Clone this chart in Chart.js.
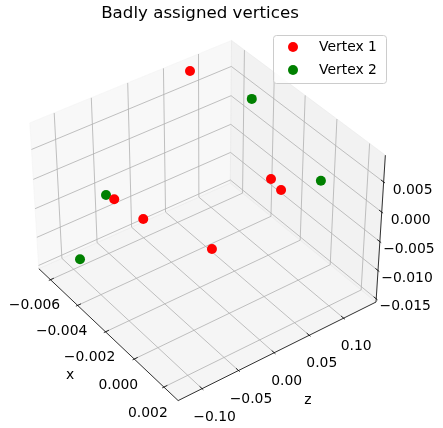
<!DOCTYPE html>
<html>
<head>
<meta charset="utf-8">
<script src="https://cdn.jsdelivr.net/npm/chart.js@4.4.1/dist/chart.umd.min.js"></script>
<style>
html,body{margin:0;padding:0;background:#fff}
</style>
</head>
<body>
<canvas id="chart" width="443" height="428"></canvas>
<script>
// series (x = first horizontal axis, z = second horizontal axis, y = vertical axis)
const seriesNames=['Vertex 1','Vertex 2']
const v1x=[-0.00653,-0.00070,0.00040,-0.00455,-0.00407,-0.00313]
const v1z=[0.0805,0.0720,0.0617,-0.0671,-0.0372,0.0410]
const v1y=[0.0081,0.0020,0.0030,-0.0020,-0.0060,-0.0136]
const v2x=[-0.00468,0.00219,-0.00465,-0.00467]
const v2z=[0.1308,0.0758,-0.0761,-0.1143]
const v2y=[0.0045,0.0075,-0.0010,-0.0100]

// ticks and axis limits
const xTicks=[-0.006,-0.004,-0.002,0.000,0.002]
const zTicks=[-0.10,-0.05,0.00,0.05,0.10]
const yTicks=[-0.015,-0.010,-0.005,0.000,0.005]
const xLim=[-0.006880,0.002941]
const zLim=[-0.13235,0.14798]
const yLim=[-0.015577,0.009353]

const W=443,H=428
const FONT='"DejaVu Sans", sans-serif'

/* 3D view, matplotlib style perspective */
const elev=38.07*Math.PI/180, azim=-36.24*Math.PI/180, dist=10
const asp=[4,4,3].map(q=>q*1.8294640721620434/Math.sqrt(41))
const w=[Math.cos(elev)*Math.cos(azim),Math.cos(elev)*Math.sin(azim),Math.sin(elev)]
const eye=[0,1,2].map(i=>asp[i]/2+dist*w[i])
let u=[-w[1],w[0],0]
const un=Math.hypot(u[0],u[1])
u=u.map(q=>q/un)
const v=[w[1]*u[2]-w[2]*u[1],w[2]*u[0]-w[0]*u[2],w[0]*u[1]-w[1]*u[0]]
const dot=(a,b)=>a[0]*b[0]+a[1]*b[1]+a[2]*b[2]

function proj(a,b,c){
const p=[(a-xLim[0])/(xLim[1]-xLim[0])*asp[0],(b-zLim[0])/(zLim[1]-zLim[0])*asp[1],(c-yLim[0])/(yLim[1]-yLim[0])*asp[2]]
const d=[p[0]-eye[0],p[1]-eye[1],p[2]-eye[2]]
const dw=-dot(w,d)
return {x:dot(u,d)/dw,y:dot(v,d)/dw}
}

// where the box corners sit on the page
const anchors=[
[[0,0,0],[38,268]],
[[1,0,0],[178,402]],
[[1,1,0],[376,300]],
[[0,1,1],[231,41]],
[[1,1,1],[385,155]],
[[0,0,1],[30,123]],
[[0,1,0],[232,184]]
]

function fitView(area){
const P=anchors.map(a=>proj(xLim[a[0][0]],zLim[a[0][1]],yLim[a[0][2]]))
const n=P.length
let mX=0,mY=0,mx=0,my=0
P.forEach((p,i)=>{mX+=p.x/n;mY+=p.y/n;mx+=anchors[i][1][0]/n;my+=anchors[i][1][1]/n})
let num=0,den=0
P.forEach((p,i)=>{
num+=(p.x-mX)*(anchors[i][1][0]-mx)-(p.y-mY)*(anchors[i][1][1]-my)
den+=(p.x-mX)**2+(p.y-mY)**2
})
const s=num/den, ox=mx-s*mX, oy=my+s*mY
return {xmin:(area.left-ox)/s,xmax:(area.right-ox)/s,ymin:(oy-area.bottom)/s,ymax:(oy-area.top)/s}
}
const view=fitView({left:0,top:0,right:W,bottom:H})

const pts=(xs,zs,ys)=>xs.map((x,i)=>proj(x,zs[i],ys[i]))

const fmt=(val,d)=>(val<-1e-12?'\u2212':'')+Math.abs(val).toFixed(d)

function px(chart,a,b,c){
const p=proj(a,b,c)
return [chart.scales.x.getPixelForValue(p.x),chart.scales.y.getPixelForValue(p.y)]
}

function path(ctx,list){
ctx.beginPath()
list.forEach((p,i)=>i?ctx.lineTo(p[0],p[1]):ctx.moveTo(p[0],p[1]))
}

const axes3d={
id:'axes3d',
beforeDatasetsDraw(chart){
const ctx=chart.ctx
const [x0,x1]=xLim,[z0,z1]=zLim,[y0,y1]=yLim
const P=(a,b,c)=>px(chart,a,b,c)
ctx.save()
// panes
const panes=[
[[P(x0,z0,y0),P(x0,z1,y0),P(x0,z1,y1),P(x0,z0,y1)],'rgba(242,242,242,0.5)'],
[[P(x0,z1,y0),P(x1,z1,y0),P(x1,z1,y1),P(x0,z1,y1)],'rgba(230,230,230,0.5)'],
[[P(x0,z0,y0),P(x1,z0,y0),P(x1,z1,y0),P(x0,z1,y0)],'rgba(236,236,236,0.5)']
]
panes.forEach(([poly,col])=>{
path(ctx,poly);ctx.closePath()
ctx.fillStyle=col;ctx.fill()
ctx.strokeStyle=col;ctx.lineWidth=1;ctx.stroke()
})
// grid
ctx.strokeStyle='#b0b0b0';ctx.lineWidth=0.8
xTicks.forEach(t=>{path(ctx,[P(t,z1,y1),P(t,z1,y0),P(t,z0,y0)]);ctx.stroke()})
zTicks.forEach(t=>{path(ctx,[P(x0,t,y1),P(x0,t,y0),P(x1,t,y0)]);ctx.stroke()})
yTicks.forEach(t=>{path(ctx,[P(x1,z1,t),P(x0,z1,t),P(x0,z0,t)]);ctx.stroke()})
// axis lines
ctx.strokeStyle='#000';ctx.lineWidth=0.8
path(ctx,[P(x0,z0,y0),P(x1,z0,y0)]);ctx.stroke()
path(ctx,[P(x1,z0,y0),P(x1,z1,y0)]);ctx.stroke()
path(ctx,[P(x1,z1,y0),P(x1,z1,y1)]);ctx.stroke()
// tick marks
const dz=(z1-z0)/12,dx=(x1-x0)/12
xTicks.forEach(t=>{path(ctx,[P(t,z0-0.1*dz,y0),P(t,z0+0.2*dz,y0)]);ctx.stroke()})
zTicks.forEach(t=>{path(ctx,[P(x1+0.1*dx,t,y0),P(x1-0.2*dx,t,y0)]);ctx.stroke()})
yTicks.forEach(t=>{path(ctx,[P(x1+0.1*dx,z1,t),P(x1-0.2*dx,z1,t)]);ctx.stroke()})
// tick labels
ctx.fillStyle='#000';ctx.font='13.9px '+FONT
ctx.textAlign='center';ctx.textBaseline='middle'
xTicks.forEach(t=>{const p=P(t,z0,y0);ctx.fillText(fmt(t,3),p[0]-16,p[1]+26)})
zTicks.forEach(t=>{const p=P(x1,t,y0);ctx.fillText(fmt(t,2),p[0]+12.5,p[1]+28.5)})
yTicks.forEach(t=>{const p=P(x1,z1,t);ctx.fillText(fmt(t,3),p[0]+29,p[1]+8)})
// axis labels
ctx.fillText('x',70,375)
ctx.fillText('z',308,400)
ctx.fillText('y',447,241)
// title
ctx.font='16.67px '+FONT
ctx.textBaseline='alphabetic'
ctx.fillText('Badly assigned vertices',200,18)
ctx.restore()
},
afterDraw(chart){
const ctx=chart.ctx
ctx.save()
ctx.beginPath()
ctx.roundRect(273.5,35.5,113,48,3)
ctx.fillStyle='rgba(255,255,255,0.8)';ctx.fill()
ctx.strokeStyle='#cccccc';ctx.lineWidth=1;ctx.stroke()
ctx.font='13.9px '+FONT;ctx.textAlign='left';ctx.textBaseline='middle'
chart.data.datasets.forEach((ds,i)=>{
const yy=47+i*23
ctx.beginPath();ctx.arc(293,yy,5,0,Math.PI*2)
ctx.fillStyle=ds.backgroundColor;ctx.fill()
ctx.fillStyle='#000';ctx.fillText(ds.label,319,yy)
})
ctx.restore()
}
}

const chart=new Chart(document.getElementById('chart'),{
type:'scatter',
data:{datasets:[
{label:seriesNames[0],data:pts(v1x,v1z,v1y),backgroundColor:'#ff0000',borderWidth:0,pointRadius:5,clip:false},
{label:seriesNames[1],data:pts(v2x,v2z,v2y),backgroundColor:'#008000',borderWidth:0,pointRadius:5,clip:false}
]},
options:{
responsive:false,
animation:false,
layout:{padding:0,autoPadding:false},
scales:{
x:{type:'linear',display:false,min:view.xmin,max:view.xmax},
y:{type:'linear',display:false,min:view.ymin,max:view.ymax}
},
plugins:{legend:{display:false},title:{display:false},tooltip:{enabled:false}}
},
plugins:[axes3d]
})

// keep the page mapping exact whatever the chart area ends up being
const area=chart.chartArea
const fit=fitView(area)
chart.options.scales.x.min=fit.xmin
chart.options.scales.x.max=fit.xmax
chart.options.scales.y.min=fit.ymin
chart.options.scales.y.max=fit.ymax
chart.update()
</script>
</body>
</html>
